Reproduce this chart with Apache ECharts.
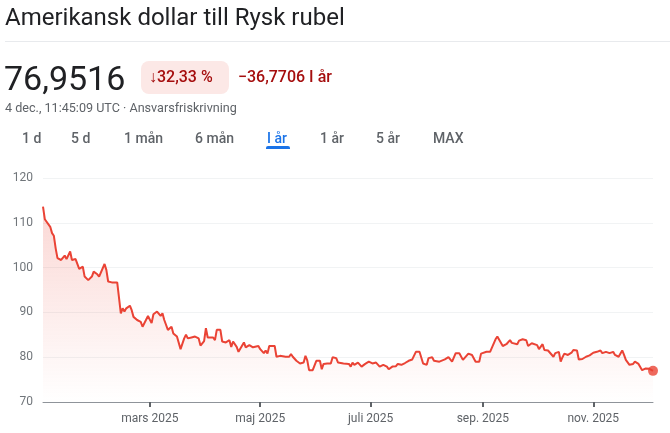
<!DOCTYPE html>
<html>
<head>
<meta charset="utf-8">
<script src="https://cdn.jsdelivr.net/npm/echarts@6/dist/echarts.min.js"></script>
<style>
  body { margin: 0; background: #fff; font-family: Roboto, "Noto Sans", sans-serif; }
  #page { position: relative; width: 670px; height: 433px; overflow: hidden; }
  #chart { position: absolute; left: 0; top: 0; width: 670px; height: 433px; }
  .t { position: absolute; white-space: nowrap; z-index: 2; }
  #title { left: 5px; top: 2px; font-size: 24px; color: #202124; line-height: 30px; }
  #divider { position: absolute; left: 5px; right: 0; top: 41px; height: 1px; background: #e8eaed; }
  #price { left: 4px; top: 58px; font-size: 34px; color: #202124; line-height: 40px; }
  #badge { position: absolute; left: 141px; top: 61px; width: 88px; height: 33px; border-radius: 8px; background: #fce8e6; }
  #pct { left: 149px; top: 66px; font-size: 16px; font-weight: 500; color: #a50e0e; line-height: 22px; }
  #abs { left: 238px; top: 66px; font-size: 16px; font-weight: 500; color: #a50e0e; line-height: 22px; }
  #sub { left: 5px; top: 100px; font-size: 12.6px; color: #5f6368; line-height: 16px; }
  .btn { top: 129px; font-size: 14px; font-weight: 500; color: #5f6368; line-height: 18px; }
  #sel { color: #1a73e8; }
  #underline { position: absolute; left: 266px; top: 146px; width: 24px; height: 3px; border-radius: 2px 2px 0 0; background: #1a73e8; }
</style>
</head>
<body>
<div id="page">
  <div id="chart"></div>
  <div class="t" id="title">Amerikansk dollar till Rysk rubel</div>
  <div id="divider"></div>
  <div class="t" id="price">76,9516</div>
  <div id="badge"></div>
  <div class="t" id="pct">↓32,33 %</div>
  <div class="t" id="abs">−36,7706 I år</div>
  <div class="t" id="sub">4 dec., 11:45:09 UTC · Ansvarsfriskrivning</div>
  <div class="t btn" style="left:22px">1 d</div>
  <div class="t btn" style="left:71px">5 d</div>
  <div class="t btn" style="left:124px">1 mån</div>
  <div class="t btn" style="left:195px">6 mån</div>
  <div class="t btn" id="sel" style="left:267px">I år</div>
  <div class="t btn" style="left:320px">1 år</div>
  <div class="t btn" style="left:376px">5 år</div>
  <div class="t btn" style="left:433px">MAX</div>
  <div id="underline"></div>
</div>
<script>
var dates = [
  "2025-01-01","2025-01-02","2025-01-03","2025-01-05","2025-01-06","2025-01-07","2025-01-08","2025-01-09",
  "2025-01-11","2025-01-13","2025-01-14","2025-01-16","2025-01-17","2025-01-19","2025-01-21","2025-01-22",
  "2025-01-23","2025-01-24","2025-01-26","2025-01-28","2025-01-29","2025-01-31","2025-02-01","2025-02-04",
  "2025-02-05","2025-02-06","2025-02-08","2025-02-11","2025-02-12","2025-02-13","2025-02-14","2025-02-15",
  "2025-02-16","2025-02-18","2025-02-19","2025-02-20","2025-02-22","2025-02-24","2025-02-25","2025-02-26",
  "2025-02-28","2025-03-01","2025-03-02","2025-03-03","2025-03-05","2025-03-06","2025-03-07","2025-03-08",
  "2025-03-09","2025-03-10","2025-03-11","2025-03-13","2025-03-14","2025-03-16","2025-03-17","2025-03-18",
  "2025-03-20","2025-03-21","2025-03-22","2025-03-24","2025-03-26","2025-03-28","2025-03-29","2025-03-31",
  "2025-04-01","2025-04-02","2025-04-03","2025-04-05","2025-04-06","2025-04-07","2025-04-09","2025-04-10",
  "2025-04-12","2025-04-14","2025-04-15","2025-04-16","2025-04-18","2025-04-19","2025-04-22","2025-04-23",
  "2025-04-25","2025-04-27","2025-04-28","2025-04-30","2025-05-01","2025-05-03","2025-05-04","2025-05-05",
  "2025-05-06","2025-05-09","2025-05-10","2025-05-12","2025-05-15","2025-05-17","2025-05-18","2025-05-19",
  "2025-05-21","2025-05-23","2025-05-25","2025-05-26","2025-05-27","2025-05-28","2025-05-30","2025-05-31",
  "2025-06-01","2025-06-02","2025-06-03","2025-06-04","2025-06-05","2025-06-07","2025-06-08","2025-06-09",
  "2025-06-10","2025-06-12","2025-06-13","2025-06-16","2025-06-19","2025-06-20","2025-06-21","2025-06-22",
  "2025-06-24","2025-06-26","2025-06-28","2025-06-30","2025-07-02","2025-07-04","2025-07-06","2025-07-08",
  "2025-07-10","2025-07-11","2025-07-13","2025-07-15","2025-07-16","2025-07-18","2025-07-20","2025-07-22",
  "2025-07-23","2025-07-24","2025-07-25","2025-07-26","2025-07-28","2025-07-29","2025-07-30","2025-08-01",
  "2025-08-02","2025-08-04","2025-08-05","2025-08-06","2025-08-08","2025-08-09","2025-08-11","2025-08-13",
  "2025-08-14","2025-08-15","2025-08-17","2025-08-19","2025-08-20","2025-08-21","2025-08-22","2025-08-24",
  "2025-08-26","2025-08-27","2025-08-28","2025-08-30","2025-08-31","2025-09-01","2025-09-03","2025-09-05",
  "2025-09-06","2025-09-08","2025-09-09","2025-09-10","2025-09-12","2025-09-14","2025-09-16","2025-09-17",
  "2025-09-18","2025-09-20","2025-09-21","2025-09-23","2025-09-25","2025-09-26","2025-09-28","2025-09-29",
  "2025-10-01","2025-10-02","2025-10-04","2025-10-05","2025-10-07","2025-10-08","2025-10-10","2025-10-11",
  "2025-10-13","2025-10-14","2025-10-15","2025-10-16","2025-10-18","2025-10-20","2025-10-21","2025-10-23",
  "2025-10-24","2025-10-26","2025-10-27","2025-10-28","2025-10-30","2025-11-01","2025-11-03","2025-11-05",
  "2025-11-06","2025-11-08","2025-11-09","2025-11-10","2025-11-12","2025-11-13","2025-11-15","2025-11-17",
  "2025-11-18","2025-11-19","2025-11-21","2025-11-23","2025-11-24","2025-11-26","2025-11-28","2025-11-29",
  "2025-11-30","2025-12-02","2025-12-04"
];
var rates = [
  113.6,110.8,110.4,109.1,107.7,107.1,104.3,102.1,
  101.7,102.7,101.9,103.6,101.7,101.9,99.7,99.5,
  100.2,98.0,97.2,98.0,99.1,98.5,98.0,100.8,
  99.5,96.9,96.7,96.7,96.3,89.8,90.9,90.2,
  90.9,91.5,90.5,89.0,88.3,87.9,86.8,87.2,
  89.2,89.4,87.6,89.6,90.2,90.4,89.2,89.8,
  88.3,87.9,86.1,86.8,85.3,84.6,84.4,81.8,
  84.2,85.0,84.2,84.4,84.6,84.2,82.6,83.6,
  86.5,84.4,84.0,84.4,83.8,86.1,86.1,83.5,
  83.3,83.8,82.3,83.5,82.3,81.2,83.3,82.2,
  82.7,82.2,82.3,82.5,81.8,80.9,81.5,80.8,
  82.5,82.5,80.1,80.3,80.1,80.1,80.7,80.1,
  79.2,78.6,78.8,80.3,79.3,77.1,77.1,77.5,
  79.2,79.4,79.2,77.3,78.5,78.6,79.0,78.6,
  80.0,79.8,78.8,78.6,78.5,77.9,78.8,78.3,
  78.8,77.9,78.5,79.0,78.6,78.8,77.9,78.3,
  77.9,77.3,77.9,78.0,78.5,78.3,78.7,79.2,
  78.8,79.5,79.4,81.2,81.2,81.0,78.6,78.3,
  79.8,80.0,79.2,79.4,79.0,79.4,79.5,80.0,
  80.1,79.0,80.9,80.9,80.8,79.4,79.5,80.8,
  80.5,80.5,79.0,79.0,80.8,80.9,81.2,81.2,
  81.6,84.0,84.6,84.4,82.5,82.9,83.8,83.2,
  83.5,82.9,83.7,84.0,83.8,82.5,83.1,82.7,
  82.7,81.8,82.9,81.6,81.5,81.2,80.1,80.9,
  81.2,79.0,80.0,80.8,80.5,81.0,81.6,81.5,
  79.5,79.6,79.4,80.1,80.4,81.0,81.2,81.5,
  80.9,81.2,81.5,80.9,81.2,80.5,80.1,81.5,
  80.5,79.4,78.3,78.5,79.0,78.5,77.1,77.0,
  77.5,77.4,76.95
];
var tickDates = ["2025-03-01", "2025-05-01", "2025-07-01", "2025-09-01", "2025-11-01"];
var tickLabels = ["mars 2025", "maj 2025", "juli 2025", "sep. 2025", "nov. 2025"];
var yTicks = [70, 80, 90, 100, 110, 120];

function ts(s) {
  var p = s.split("-");
  return Date.UTC(+p[0], +p[1] - 1, +p[2]);
}

var points = dates.map(function (d, i) { return [ts(d), rates[i]]; });
var tickValues = tickDates.map(ts);
var last = points[points.length - 1];

var myChart = echarts.init(document.getElementById("chart"));
var option = {
  animation: false,
  textStyle: { fontFamily: "Roboto, sans-serif" },
  grid: { left: 43, right: 17, top: 178, bottom: 31 },
  xAxis: {
    type: "value",
    min: ts(dates[0]),
    max: ts(dates[dates.length - 1]),
    axisLine: { show: true, lineStyle: { color: "#8f949a", width: 1 } },
    axisTick: { show: true, customValues: tickValues, length: 5, lineStyle: { color: "#5f6368", width: 2 } },
    axisLabel: {
      customValues: tickValues,
      color: "#5f6368",
      fontSize: 12,
      margin: 11,
      formatter: function (v) {
        var i = tickValues.indexOf(v);
        return i >= 0 ? tickLabels[i] : "";
      }
    },
    splitLine: { show: false }
  },
  yAxis: {
    type: "value",
    min: yTicks[0],
    max: yTicks[yTicks.length - 1],
    interval: 10,
    axisLine: { show: false },
    axisTick: { show: false },
    axisLabel: { color: "#70757a", fontSize: 12, margin: 10 },
    splitLine: { lineStyle: { color: "#f1f3f4", width: 1 } }
  },
  series: [
    {
      type: "line",
      data: points,
      showSymbol: false,
      lineStyle: { color: "#ea4335", width: 2 },
      itemStyle: { color: "#ea4335" },
      areaStyle: {
        color: new echarts.graphic.LinearGradient(0, 0, 0, 1, [
          { offset: 0, color: "rgba(234,67,53,0.3)" },
          { offset: 1, color: "rgba(234,67,53,0.0)" }
        ])
      },
      z: 2
    },
    {
      type: "scatter",
      data: [last],
      symbolSize: 10,
      itemStyle: { color: "#ea4335" },
      z: 3
    }
  ]
};
myChart.setOption(option);
</script>
</body>
</html>
